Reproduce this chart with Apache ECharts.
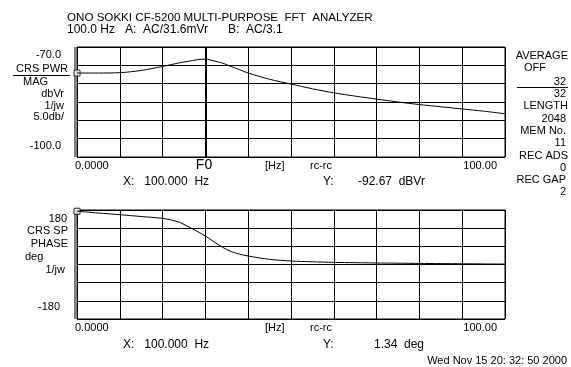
<!DOCTYPE html>
<html><head><meta charset="utf-8">
<script src="https://cdn.jsdelivr.net/npm/echarts@6/dist/echarts.min.js"></script>
<style>html,body{margin:0;padding:0;background:#fff}#c{width:571px;height:367px}</style>
</head><body><div id="c"></div>
<script>
// Frequency (Hz)
var freq = [0,5,10,15,20,22,24,26,28,30,32,34,36,38,40,45,50,55,60,65,70,75,80,85,90,95,100];
// Cross power magnitude (dBVr)
var magVals = [-77.1,-77.1,-77.0,-76.4,-75.3,-74.8,-74.3,-73.9,-73.5,-73.3,-73.8,-74.4,-75.3,-76.2,-77.1,-78.8,-80.1,-81.4,-82.5,-83.4,-84.2,-85.0,-85.7,-86.3,-86.9,-87.5,-88.2];
// Cross spectrum phase (deg)
var phaseVals = [176,170,164.5,158.5,152.5,147,139,125,110,94,75,57,43,34,28,17,11.6,9,7,6,5,4.3,3.6,3,2.4,1.9,1.34];
var f0 = 30;
var magTicks = {min:-100, max:-70, step:5};
var phaseTicks = {min:-180, max:180, step:60};
var freqTicks = {min:0, max:100, step:10};

var FONT = '"Liberation Sans", Arial, sans-serif';
function pairs(xs, ys){ return xs.map(function(x,i){return [x, ys[i]];}); }
function txt(t, x, y, align, size){
  return {type:'text', x:x, y:y, style:{text:t, fill:'#000', font:(size||11)+'px '+FONT, textAlign:align||'left', textVerticalAlign:'middle', verticalAlign:'middle'}};
}
function hline(x1,x2,y){ return {type:'line', shape:{x1:x1,y1:y,x2:x2,y2:y}, style:{stroke:'#000', lineWidth:1}}; }

var chart = echarts.init(document.getElementById('c'), null, {renderer:'canvas'});
var axisX = function(idx){ return {type:'value', gridIndex:idx, min:freqTicks.min, max:freqTicks.max, interval:freqTicks.step,
  axisLabel:{show:false}, axisTick:{show:false}, axisLine:{show:false}, splitLine:{show:true, lineStyle:{color:'#000', width:1}}}; };
var axisY = function(idx, t){ return {type:'value', gridIndex:idx, min:t.min, max:t.max, interval:t.step,
  axisLabel:{show:false}, axisTick:{show:false}, axisLine:{show:false}, splitLine:{show:true, lineStyle:{color:'#000', width:1}}}; };

var option = {
  animation:false,
  backgroundColor:'#fff',
  grid:[
    {left:77, top:47, width:428, height:110, show:true, borderColor:'#000', borderWidth:1},
    {left:77, top:210, width:428, height:109, show:true, borderColor:'#000', borderWidth:1}
  ],
  xAxis:[axisX(0), axisX(1)],
  yAxis:[axisY(0, magTicks), axisY(1, phaseTicks)],
  series:[
    {type:'line', xAxisIndex:0, yAxisIndex:0, data:pairs(freq, magVals), symbol:'none', smooth:0.3,
     lineStyle:{color:'#000', width:1},
     markLine:{silent:true, symbol:'none', label:{show:false}, lineStyle:{color:'#000', width:2, type:'solid'}, data:[{xAxis:f0}]}},
    {type:'line', xAxisIndex:1, yAxisIndex:1, data:pairs(freq, phaseVals), symbol:'none', smooth:0.3,
     lineStyle:{color:'#000', width:1}},
    {type:'scatter', xAxisIndex:0, yAxisIndex:0, data:[[freq[0], magVals[0]]], symbol:'rect', symbolSize:6,
     itemStyle:{color:'#fff', borderColor:'#000', borderWidth:1}},
    {type:'scatter', xAxisIndex:1, yAxisIndex:1, data:[[freq[0], phaseVals[0]]], symbol:'rect', symbolSize:6,
     itemStyle:{color:'#fff', borderColor:'#000', borderWidth:1}}
  ],
  graphic:[
    txt('ONO SOKKI CF-5200 MULTI-PURPOSE  FFT  ANALYZER', 67, 18, 'left', 11.6),
    txt('100.0 Hz   A:  AC/31.6mVr      B:  AC/3.1', 67, 30, 'left', 12),
    // left border double line
    {type:'line', shape:{x1:75, y1:47, x2:75, y2:157}, style:{stroke:'#000', lineWidth:1}},
    {type:'line', shape:{x1:75, y1:210, x2:75, y2:319}, style:{stroke:'#000', lineWidth:1}},
    // top left labels
    txt('-70.0', 61, 55, 'right'),
    txt('CRS PWR', 68, 69, 'right'),
    hline(13, 70, 75.5),
    txt('MAG', 23, 82, 'left'),
    txt('dbVr', 64, 94, 'right'),
    txt('1/jw', 64, 105.5, 'right'),
    txt('5.0db/', 64, 117, 'right'),
    txt('-100.0', 61, 146, 'right'),
    // top bottom labels
    txt('0.0000', 75, 166, 'left'),
    txt('F0', 204, 165, 'center', 14),
    txt('[Hz]', 265, 166, 'left'),
    txt('rc-rc', 310, 166, 'left'),
    txt('100.00', 497, 166, 'right'),
    txt('X:   100.000  Hz', 123, 182, 'left', 12),
    txt('Y:', 323, 182, 'left', 12),
    txt('-92.67  dBVr', 358, 182, 'left', 12),
    // right column
    txt('AVERAGE', 568, 56, 'right'),
    txt('OFF', 546, 68, 'right'),
    txt('32', 566, 81.5, 'right'),
    hline(517, 568, 87.5),
    txt('32', 566, 93.5, 'right'),
    txt('LENGTH', 568, 106, 'right'),
    txt('2048', 566, 118.5, 'right'),
    txt('MEM No.', 566, 130.5, 'right'),
    txt('11', 566, 143, 'right'),
    txt('REC ADS', 568, 156, 'right'),
    txt('0', 566, 168, 'right'),
    txt('REC GAP', 566, 180, 'right'),
    txt('2', 566, 192, 'right'),
    // bottom left labels
    txt('180', 67, 219, 'right'),
    txt('CRS SP', 68, 231, 'right'),
    txt('PHASE', 68, 243.5, 'right'),
    txt('deg', 25, 257, 'left'),
    txt('1/jw', 65, 270, 'right'),
    txt('-180', 60, 307, 'right'),
    // bottom bottom labels
    txt('0.0000', 75, 328, 'left'),
    txt('[Hz]', 265, 328, 'left'),
    txt('rc-rc', 310, 328, 'left'),
    txt('100.00', 497, 328, 'right'),
    txt('X:   100.000  Hz', 123, 345, 'left', 12),
    txt('Y:', 323, 345, 'left', 12),
    txt('1.34  deg', 374, 345, 'left', 12),
    txt('Wed Nov 15 20: 32: 50 2000', 567, 361, 'right', 11)
  ]
};
chart.setOption(option);
</script></body></html>
